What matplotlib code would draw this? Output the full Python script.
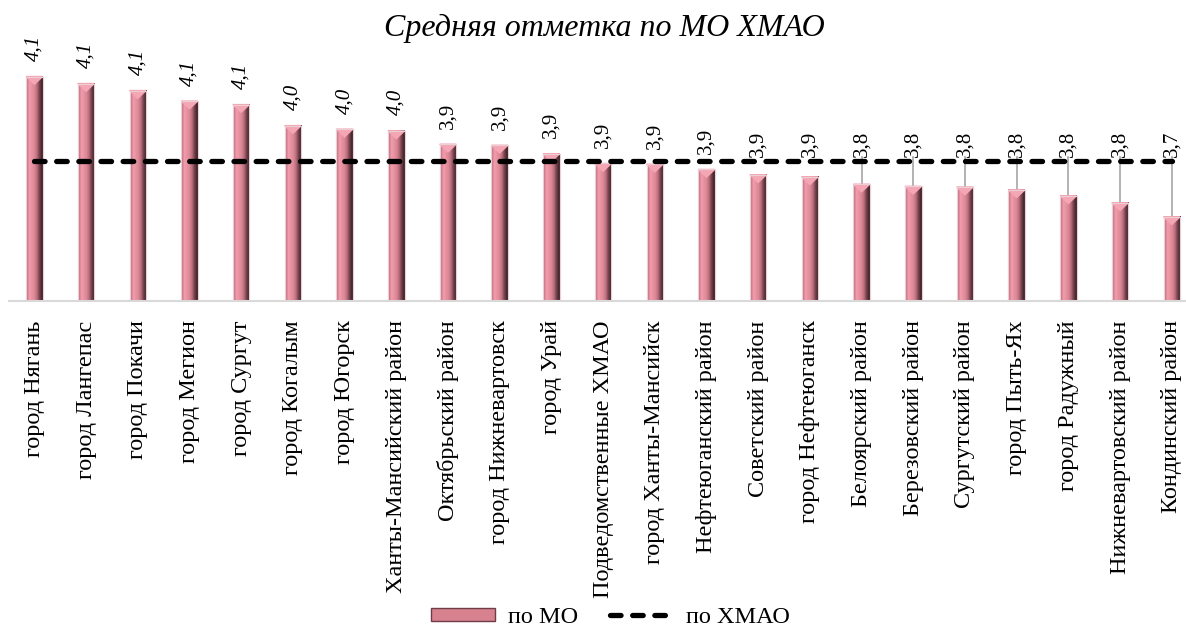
import numpy as np
import matplotlib
matplotlib.use("Agg")
import matplotlib.pyplot as plt
from matplotlib.patches import Polygon, Rectangle
from matplotlib.lines import Line2D

plt.rcParams['font.family'] = ['Liberation Serif', 'DejaVu Serif']

# data
districts = ["город Нягань", "город Лангепас", "город Покачи", "город Мегион",
             "город Сургут", "город Когалым", "город Югорск",
             "Ханты-Мансийский район", "Октябрьский район", "город Нижневартовск",
             "город Урай", "Подведомственные ХМАО", "город Ханты-Мансийск",
             "Нефтеюганский район", "Советский район", "город Нефтеюганск",
             "Белоярский район", "Березовский район", "Сургутский район",
             "город Пыть-Ях", "город Радужный", "Нижневартовский район",
             "Кондинский район"]
mo_avg = [4.14, 4.12, 4.10, 4.07, 4.06, 4.00, 3.99, 3.985, 3.947, 3.944,
          3.92, 3.892, 3.89, 3.875, 3.86, 3.854, 3.833, 3.827, 3.825,
          3.817, 3.80, 3.78, 3.74]
xmao_avg = 3.90

n = len(districts)
x = np.arange(n)
base = 3.5

fig = plt.figure(figsize=(11.86, 6.29), dpi=100)
ax = fig.add_axes([0.0072, 0.5215, 1.0026, 0.3903])

bars = ax.bar(x, np.array(mo_avg) - base, bottom=base, width=0.32,
              color='#d9828f', edgecolor='#ead0d4', linewidth=0.8, zorder=2)

# shading across each bar to fake the bevelled column look
cols = ['#c97789', '#f29dad', '#e8919f', '#da8796', '#bd6f7e', '#7a4450', '#44272d']
grad = np.array([[matplotlib.colors.to_rgb(c) for c in cols]])
for p in bars:
    x0, y0, w, h = p.get_x(), p.get_y(), p.get_width(), p.get_height()
    ax.imshow(grad, extent=(x0, x0 + w, y0, y0 + h), aspect='auto',
              interpolation='bilinear', zorder=2.5)
    top = y0 + h
    ax.add_patch(Polygon([(x0, top), (x0 + w, top), (x0 + w / 2, top - 0.022)],
                         closed=True, color='#f4a6b5', zorder=3))
    ax.add_patch(Rectangle((x0, y0), w, h, fill=False, edgecolor='#ead0d4',
                           linewidth=0.8, zorder=3))

# average for the whole okrug
dash = (0, (2.0, 2.2))
ax.plot(x, [xmao_avg] * n, color='black', linewidth=3.8, linestyle=dash,
        dash_capstyle='round', zorder=4)

# value labels, pulled up above the dashed line with leader lines when low
for i, v in enumerate(mo_avg):
    ly = max(v + 0.044, 3.91)
    if v + 0.044 < 3.895:
        ax.plot([i, i], [v, ly], color='#a6a6a6', linewidth=1.2, zorder=1.5)
    txt = f"{v:.1f}".replace('.', ',')
    ax.text(i, ly, txt, rotation=90, ha='center', va='bottom', fontsize=15,
            style='italic' if round(v, 1) >= 4.0 else 'normal', zorder=5)

ax.set_xlim(-0.5, n - 0.5)
ax.set_ylim(base, 4.2)
ax.set_xticks(x)
ax.set_xticklabels(districts, rotation=90, fontsize=17.5)
ax.tick_params(axis='x', length=0, pad=14)
ax.set_yticks([])
for s in ['top', 'left', 'right']:
    ax.spines[s].set_visible(False)
ax.spines['bottom'].set_color('#d9d9d9')
ax.spines['bottom'].set_linewidth(1.5)
ax.set_facecolor('none')

fig.text(0.51, 0.955, "Средняя отметка по МО ХМАО", ha='center', va='center',
         fontsize=23, style='italic')

handles = [Rectangle((0, 0), 1, 1, facecolor='#d9828f', edgecolor='#6e3d47', linewidth=1),
           Line2D([], [], color='black', linewidth=3.8, linestyle=dash,
                  dash_capstyle='round')]
fig.legend(handles, ["по МО", "по ХМАО"], loc='center', bbox_to_anchor=(0.515, 0.018),
           ncol=2, frameon=False, fontsize=17.5, handlelength=2.6, handleheight=0.5,
           columnspacing=1.3, handletextpad=0.55)

fig.savefig("out.png", dpi=100)
